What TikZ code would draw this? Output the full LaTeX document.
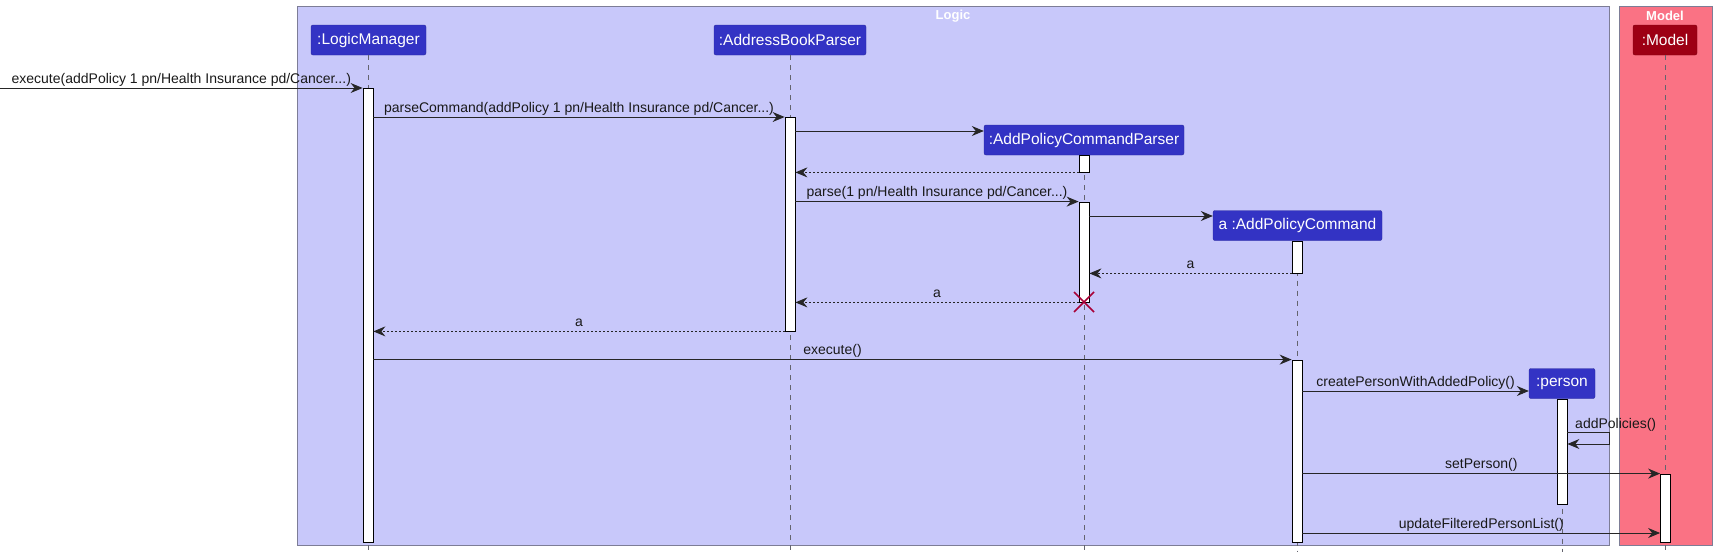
\documentclass[tikz,border=0pt]{standalone}
\usepackage{fontspec}
\setmainfont{Liberation Sans}
\usetikzlibrary{arrows.meta}
\definecolor{logicfill}{RGB}{200,200,250}
\definecolor{boxborder}{RGB}{125,125,150}
\definecolor{partblue}{RGB}{51,51,196}
\definecolor{modelfill}{RGB}{250,114,132}
\definecolor{modelpart}{RGB}{157,0,20}
\definecolor{destroyc}{RGB}{168,0,54}
\definecolor{lifec}{RGB}{100,100,110}
\tikzset{
  part/.style={rounded corners=2pt, fill=partblue, draw=partblue!80!black, text=white, font=\fontsize{15.5}{17}\selectfont, minimum height=30pt, inner sep=0pt},
  mpart/.style={part, fill=modelpart, draw=modelpart!80!black},
  act/.style={draw=black, fill=white, line width=0.8pt, minimum width=10pt, inner sep=0pt},
  life/.style={draw=lifec, line width=0.7pt, dash pattern=on 5pt off 5pt},
  msg/.style={draw=black!85, line width=0.9pt, -{Stealth[length=12pt,width=10pt,inset=4pt]}},
  ret/.style={msg, dash pattern=on 2pt off 2pt},
  lbl/.style={font=\fontsize{14}{16}\selectfont, text=black!90, inner sep=0pt, anchor=base, yshift=5pt},
  grp/.style={draw=boxborder, line width=1pt},
  grplbl/.style={font=\fontsize{13}{15}\selectfont\bfseries, text=white, inner sep=0pt}
}
\begin{document}
\begin{tikzpicture}[x=1pt,y=-1pt]
\useasboundingbox (0,0) rectangle (1716,557);
% groups
\filldraw[grp, fill=logicfill] (297,6) rectangle (1609,545);
\filldraw[grp, fill=modelfill] (1619,6) rectangle (1712,545);
\node[grplbl] (logiclbl) at (953,16) {Logic};
\node[grplbl] (modellbl) at (1665,16) {Model};
% participants
\node[part, minimum width=115pt] (lm) at (368.5,40) {:LogicManager};
\node[part, minimum width=152pt] (abp) at (790,40) {:AddressBookParser};
\node[part, minimum width=200pt] (apcp) at (1084,140) {:AddPolicyCommandParser};
\node[part, minimum width=169pt] (apc) at (1297.5,225.5) {a :AddPolicyCommand};
\node[part, minimum width=66pt] (person) at (1562,383.5) {:person};
\node[mpart, minimum width=64pt] (model) at (1665,40) {:Model};
% lifeline ends
\coordinate (lmE) at (368,552);
\coordinate (abpE) at (790,552);
\coordinate (apcpE) at (1084,552);
\coordinate (apcE) at (1297,552);
\coordinate (personE) at (1562,552);
\coordinate (modelE) at (1665.5,552);
\draw[life] (lm.south -| lmE) -- (lmE);
\draw[life] (abp.south -| abpE) -- (abpE);
\draw[life] (apcp.south -| apcpE) -- (apcpE);
\draw[life] (apc.south -| apcE) -- (apcE);
\draw[life] (person.south -| personE) -- (personE);
\draw[life] (model.south -| modelE) -- (modelE);
% activations
\node[act, minimum height=454pt] (lmA) at (368,315) {};
\node[act, minimum height=214pt] (abpA) at (790,224) {};
\node[act, minimum height=17pt] (apcpA1) at (1084,163.5) {};
\node[act, minimum height=100pt] (apcpA2) at (1084,252) {};
\node[act, minimum height=32pt] (apcA1) at (1297,257) {};
\node[act, minimum height=182pt] (apcA2) at (1297,451) {};
\node[act, minimum height=105pt] (personA) at (1562,451.5) {};
\node[act, minimum height=68pt] (modelA) at (1665.5,508) {};
% message levels
\coordinate (start) at (0,88);
\coordinate (y2) at (0,117);
\coordinate (y3) at (0,131);
\coordinate (y6) at (0,216);
\coordinate (y11) at (0,391);
\coordinate (y14) at (0,533);
% messages
\draw[msg] (start) -- (lmA.west |- start) node[lbl, midway] {execute(addPolicy 1 pn/Health Insurance pd/Cancer...)};
\draw[msg] (lmA.east |- y2) -- (abpA.west |- y2) node[lbl, midway] {parseCommand(addPolicy 1 pn/Health Insurance pd/Cancer...)};
\draw[msg] (abpA.east |- y3) -- (apcp.west |- y3);
\draw[ret] (apcpA1.south west) -- (abpA.east |- apcpA1.south);
\draw[msg] (abpA.east |- apcpA2.north) -- (apcpA2.north west) node[lbl, midway] {parse(1 pn/Health Insurance pd/Cancer...)};
\draw[msg] (apcpA2.east |- y6) -- (apc.west |- y6);
\draw[ret] (apcA1.south west) -- (apcpA2.east |- apcA1.south) node[lbl, midway] {a};
\draw[ret] (apcpA2.south west) -- (abpA.east |- apcpA2.south) node[lbl, midway] {a};
\draw[ret] (abpA.south west) -- (lmA.east |- abpA.south) node[lbl, midway] {a};
\draw[msg] (lmA.east |- apcA2.north) -- (apcA2.north west) node[lbl, midway] {execute()};
\draw[msg] (apcA2.east |- y11) -- (person.west |- y11) node[lbl, midway] {createPersonWithAddedPolicy()};
\coordinate (selfA) at (1609,432);
\coordinate (selfB) at (1609,444);
\draw[msg] (personA.east |- selfA) -- (selfA) -- (selfB) -- (personA.east |- selfB);
\node[font=\fontsize{14}{16}\selectfont, text=black!90, inner sep=0pt, anchor=base west] (selftxt) at (1575,428) {addPolicies()};
\draw[msg] (apcA2.east |- modelA.north) -- (modelA.north west) node[lbl, midway] {setPerson()};
\draw[msg] (apcA2.east |- y14) -- (modelA.west |- y14) node[lbl, midway] {updateFilteredPersonList()};
% destroy
\coordinate (dx) at (1084,302);
\draw[destroyc, line width=1.5pt] ([shift={(-10,-10)}]dx) -- ([shift={(10,10)}]dx) ([shift={(-10,10)}]dx) -- ([shift={(10,-10)}]dx);
\end{tikzpicture}
\end{document}
